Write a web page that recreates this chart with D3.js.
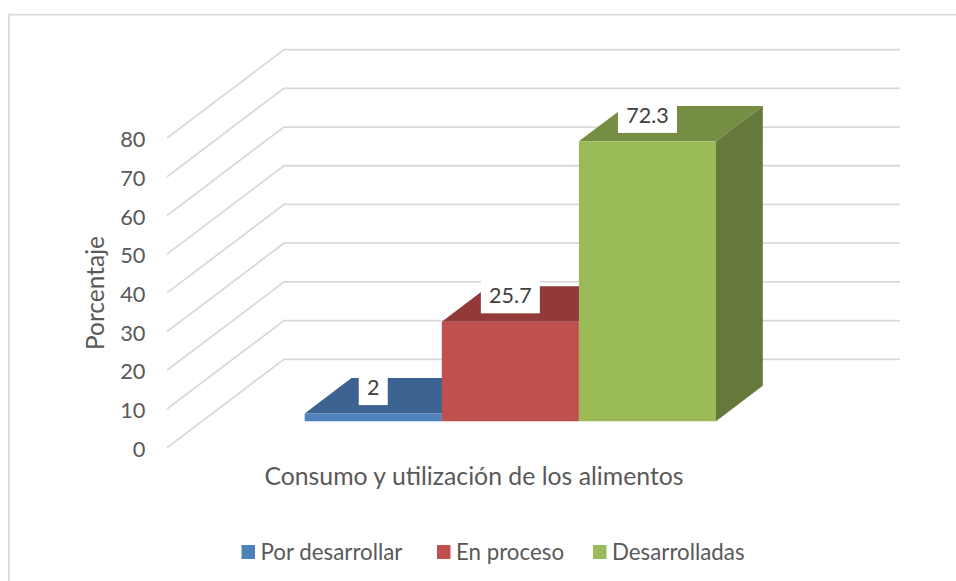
<!DOCTYPE html>
<html>
<head>
<meta charset="utf-8">
<script src="https://cdn.jsdelivr.net/npm/d3@7"></script>
<style>
  html, body { margin: 0; padding: 0; background: #fff; }
  svg { display: block; }
  text { font-family: Lato, "Open Sans", sans-serif; fill: #595959; }
</style>
</head>
<body>
<svg width="956" height="581"></svg>
<script>
const categories = ["Por desarrollar", "En proceso", "Desarrolladas"];
const values = [2, 25.7, 72.3];
const labels = ["2", "25.7", "72.3"];
const yTicks = [0, 10, 20, 30, 40, 50, 60, 70, 80];
const frontColors = ["#4f81bd", "#c0504d", "#9bbb59"];
const topColors = ["#3c6291", "#923a38", "#768e44"];
const sideColors = ["#3c6291", "#923a38", "#657a3a"];

const svg = d3.select("svg");

// chart frame, open on the right and bottom like the pasted picture
svg.append("path")
    .attr("d", "M9,581V14.7H956")
    .attr("fill", "none")
    .attr("stroke", "#d9d9d9")
    .attr("stroke-width", 1.8);

// value scale on the front edge of the floor
const y = d3.scaleLinear().domain([0, 80]).range([447.7, 138]);
const depthX = d3.scaleLinear().domain([0, 1]).range([0, 117]);
const depthY = d3.scaleLinear().domain([0, 1]).range([0, -88.4]);

const wallLeft = 167, wallRight = 900 - 117;

// walls
const grid = d3.line();
svg.append("g").selectAll("path")
    .data(yTicks)
    .join("path")
    .attr("d", d => grid([
        [wallLeft, y(d)],
        [wallLeft + depthX(1), y(d) + depthY(1)],
        [wallRight + depthX(1), y(d) + depthY(1)]
    ]))
    .attr("fill", "none")
    .attr("stroke", "#d9d9d9")
    .attr("stroke-width", 1.8);

// y tick labels
svg.append("g").selectAll("text")
    .data(yTicks)
    .join("text")
    .attr("x", 145.5)
    .attr("y", d => y(d) + 1.5)
    .attr("dy", "0.35em")
    .attr("text-anchor", "end")
    .attr("font-size", 21.8)
    .text(d => d);

// bars sit between these two depths of the floor
const barFront = 0.3, barBack = 0.7;
const x = d3.scaleBand().domain(categories).range([304.7, 716]).padding(0);

function corner(cat, side, v, t) {
    const px = x(cat) + side * x.bandwidth();
    return [px + depthX(t - barFront), y(v) + depthY(t)];
}

const bars = svg.append("g").selectAll("g")
    .data(categories)
    .join("g");

const poly = pts => "M" + pts.join("L") + "Z";

bars.append("path")
    .attr("d", (c, i) => poly([
        corner(c, 0, values[i], barFront),
        corner(c, 1, values[i], barFront),
        corner(c, 1, values[i], barBack),
        corner(c, 0, values[i], barBack)
    ]))
    .attr("fill", (c, i) => topColors[i]);

bars.append("path")
    .attr("d", (c, i) => poly([
        corner(c, 1, 0, barFront),
        corner(c, 1, values[i], barFront),
        corner(c, 1, values[i], barBack),
        corner(c, 1, 0, barBack)
    ]))
    .attr("fill", (c, i) => sideColors[i]);

bars.append("path")
    .attr("d", (c, i) => poly([
        corner(c, 0, 0, barFront),
        corner(c, 1, 0, barFront),
        corner(c, 1, values[i], barFront),
        corner(c, 0, values[i], barFront)
    ]))
    .attr("fill", (c, i) => frontColors[i]);

// data labels in white boxes, centred over the front face
const labelW = [29, 59, 59];
const lab = svg.append("g").selectAll("g")
    .data(categories)
    .join("g")
    .attr("transform", (c, i) => {
        const p = corner(c, 0.5, values[i], barBack);
        return `translate(${x(c) + x.bandwidth() / 2},${p[1] + 10.5})`;
    });
lab.append("rect")
    .attr("x", (c, i) => -labelW[i] / 2)
    .attr("y", -16.5)
    .attr("width", (c, i) => labelW[i])
    .attr("height", 33)
    .attr("fill", "#fff");
lab.append("text")
    .attr("text-anchor", "middle")
    .attr("y", -1)
    .attr("dy", "0.35em")
    .attr("font-size", 21.5)
    .style("fill", "#404040")
    .text((c, i) => labels[i]);

// axis titles
svg.append("text")
    .attr("x", 474)
    .attr("y", 485)
    .attr("text-anchor", "middle")
    .attr("font-size", 24.8)
    .text("Consumo y utilización de los alimentos");

svg.append("text")
    .attr("transform", "translate(104,293) rotate(-90)")
    .attr("text-anchor", "middle")
    .attr("font-size", 24.5)
    .text("Porcentaje");

// legend
const legendX = [241.5, 437, 593];
const legend = svg.append("g").selectAll("g")
    .data(categories)
    .join("g")
    .attr("transform", (c, i) => `translate(${legendX[i]},545)`);
legend.append("rect")
    .attr("width", 13.5)
    .attr("height", 14)
    .attr("fill", (c, i) => frontColors[i]);
legend.append("text")
    .attr("x", 19)
    .attr("y", 14.5)
    .attr("font-size", 22.3)
    .text(c => c);
</script>
</body>
</html>
